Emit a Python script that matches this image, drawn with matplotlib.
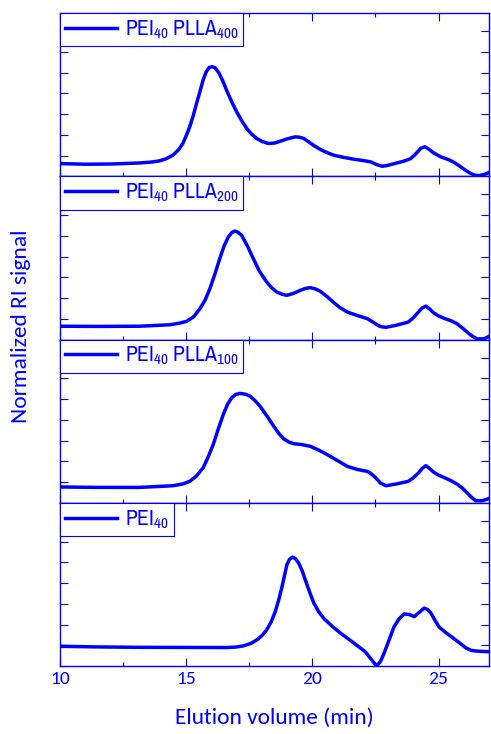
import matplotlib
matplotlib.use("Agg")
import matplotlib.pyplot as plt
from matplotlib.ticker import MultipleLocator, NullFormatter

BLUE = "#0000FF"

# GPC traces (elution volume in min, normalized RI signal)
plla400_x = [10.0, 11.0, 12.0, 13.15, 13.6, 13.94, 14.2, 14.47, 14.7, 14.87, 15.0, 15.14,
             15.28, 15.41, 15.55, 15.67, 15.8, 15.92, 16.04, 16.15, 16.3, 16.45, 16.6,
             16.8, 17.0, 17.2, 17.4, 17.6, 17.8, 18.0, 18.26, 18.5, 18.73, 19.0, 19.32,
             19.5, 19.66, 19.9, 20.1, 20.32, 20.6, 20.86, 21.2, 21.65, 22.0, 22.32, 22.55,
             22.78, 23.0, 23.25, 23.6, 23.9, 24.1, 24.3, 24.46, 24.6, 24.8, 25.1, 25.4,
             25.63, 25.85, 26.03, 26.25, 26.43, 26.6, 26.8, 27.0]
plla400_y = [0.61, 0.58, 0.59, 0.64, 0.68, 0.74, 0.84, 1.01, 1.28, 1.58, 1.95, 2.38,
             2.92, 3.51, 4.1, 4.64, 5.05, 5.25, 5.28, 5.22, 4.98, 4.6, 4.15,
             3.6, 3.11, 2.68, 2.3, 2.02, 1.82, 1.68, 1.58, 1.6, 1.69, 1.8, 1.9,
             1.88, 1.82, 1.62, 1.45, 1.29, 1.13, 1.01, 0.92, 0.82, 0.76, 0.69, 0.56,
             0.48, 0.53, 0.61, 0.72, 0.85, 1.08, 1.35, 1.42, 1.32, 1.13, 0.93, 0.8,
             0.66, 0.48, 0.32, 0.15, 0.05, 0.03, 0.08, 0.18]

plla200_x = [10.0, 11.5, 13.15, 14.35, 14.7, 15.01, 15.3, 15.54, 15.75, 15.94, 16.15, 16.33,
             16.5, 16.67, 16.8, 16.93, 17.05, 17.2, 17.43, 17.66, 17.9, 18.19, 18.4, 18.59,
             18.8, 18.99, 19.25, 19.52, 19.72, 19.92, 20.12, 20.32, 20.6, 20.86, 21.1, 21.39,
             21.8, 22.19, 22.4, 22.59, 22.75, 22.92, 23.3, 23.8, 24.0, 24.2, 24.35, 24.5,
             24.65, 24.8, 25.0, 25.2, 25.5, 25.73, 25.95, 26.14, 26.35, 26.53, 26.8, 27.0]
plla200_y = [0.64, 0.63, 0.64, 0.71, 0.78, 0.87, 1.1, 1.48, 1.9, 2.45, 3.2, 3.9,
             4.5, 4.94, 5.15, 5.23, 5.17, 5.02, 4.5, 3.9, 3.3, 2.77, 2.48, 2.29,
             2.18, 2.13, 2.22, 2.37, 2.46, 2.5, 2.44, 2.32, 2.05, 1.77, 1.53, 1.32,
             1.15, 1.0, 0.84, 0.68, 0.61, 0.59, 0.68, 0.84, 1.05, 1.32, 1.52, 1.61,
             1.47, 1.29, 1.14, 1.03, 0.9, 0.76, 0.55, 0.35, 0.15, 0.03, 0.03, 0.15]

plla100_x = [10.0, 11.5, 13.15, 14.47, 14.85, 15.14, 15.4, 15.67, 15.87, 16.07, 16.27, 16.47,
             16.63, 16.8, 16.96, 17.13, 17.33, 17.53, 17.73, 17.93, 18.2, 18.47, 18.66, 18.86,
             19.06, 19.26, 19.6, 19.92, 20.25, 20.59, 21.0, 21.39, 21.8, 22.19, 22.35, 22.52,
             22.7, 22.92, 23.3, 23.8, 24.0, 24.2, 24.35, 24.5, 24.65, 24.8, 25.0, 25.27,
             25.5, 25.73, 25.95, 26.14, 26.3, 26.47, 26.73, 26.95, 27.1]
plla100_y = [0.76, 0.74, 0.74, 0.82, 0.9, 1.03, 1.28, 1.68, 2.2, 2.8, 3.55, 4.25,
             4.72, 5.06, 5.22, 5.27, 5.24, 5.14, 4.92, 4.65, 4.18, 3.69, 3.36, 3.09,
             2.93, 2.85, 2.8, 2.72, 2.54, 2.32, 2.03, 1.75, 1.6, 1.51, 1.38, 1.19,
             0.95, 0.82, 0.9, 1.03, 1.2, 1.43, 1.65, 1.79, 1.65, 1.48, 1.33, 1.19,
             1.06, 0.9, 0.7, 0.47, 0.27, 0.1, 0.1, 0.18, 0.26]

pei_x = [10.0, 11.5, 13.15, 16.6, 16.95, 17.27, 17.55, 17.8, 18.0, 18.19, 18.37, 18.53,
         18.67, 18.8, 18.9, 18.99, 19.1, 19.22, 19.34, 19.46, 19.6, 19.72, 19.89, 20.06,
         20.25, 20.45, 20.8, 21.12, 21.5, 21.91, 22.1, 22.25, 22.4, 22.55, 22.7, 22.84,
         23.04, 23.24, 23.44, 23.64, 23.84, 24.04, 24.25, 24.43, 24.57, 24.7, 24.86, 25.03,
         25.33, 25.63, 25.87, 26.1, 26.3, 26.5, 26.8, 27.1]
pei_y = [0.95, 0.92, 0.9, 0.89, 0.91, 0.97, 1.08, 1.26, 1.46, 1.74, 2.13, 2.62,
         3.2, 3.83, 4.38, 4.88, 5.15, 5.25, 5.16, 4.96, 4.58, 4.15, 3.57, 3.03,
         2.62, 2.3, 1.9, 1.58, 1.24, 0.86, 0.68, 0.45, 0.22, 0.0, 0.22, 0.61,
         1.25, 1.9, 2.28, 2.51, 2.48, 2.38, 2.6, 2.79, 2.72, 2.55, 2.2, 1.87,
         1.57, 1.3, 1.08, 0.86, 0.75, 0.72, 0.7, 0.68]

labels = [r"PEI$_{40}$ PLLA$_{400}$", r"PEI$_{40}$ PLLA$_{200}$",
          r"PEI$_{40}$ PLLA$_{100}$", r"PEI$_{40}$"]
traces = [(plla400_x, plla400_y), (plla200_x, plla200_y),
          (plla100_x, plla100_y), (pei_x, pei_y)]

plt.rcParams["font.family"] = ["Carlito", "DejaVu Sans"]
plt.rcParams["mathtext.fontset"] = "custom"
plt.rcParams["mathtext.rm"] = "Archivo Narrow"
plt.rcParams["mathtext.default"] = "rm"

fig, axes = plt.subplots(4, 1, sharex=True, figsize=(4.91, 7.34), dpi=100)
fig.subplots_adjust(left=60 / 491, right=489 / 491, top=1 - 13 / 734,
                    bottom=1 - 666 / 734, hspace=0)

for ax, (xs, ys), lab in zip(axes, traces, labels):
    ax.plot(xs, ys, color=BLUE, lw=2.5, label=lab, solid_joinstyle="round")
    ax.set_xlim(10, 27)
    ax.set_ylim(0, 7.87)
    ax.yaxis.set_major_locator(MultipleLocator(1))
    ax.yaxis.set_major_formatter(NullFormatter())
    ax.xaxis.set_major_locator(MultipleLocator(5))
    ax.xaxis.set_minor_locator(MultipleLocator(2.5))
    ax.tick_params(which="both", direction="in", top=True, right=True,
                   color=BLUE, width=0.8, labelcolor=BLUE, labelsize=14)
    ax.tick_params(axis="y", which="major", length=5.8)
    ax.tick_params(axis="x", which="major", length=5.8)
    ax.tick_params(axis="x", which="minor", length=3.0)
    for sp in ax.spines.values():
        sp.set_color(BLUE)
        sp.set_linewidth(1.0)
    leg = ax.legend(loc="upper left", borderaxespad=0, fancybox=False,
                    framealpha=1, edgecolor=BLUE, handlelength=2.4,
                    handletextpad=0.35, borderpad=0.25,
                    prop={"size": 15.5, "family": ["Archivo Narrow", "DejaVu Sans"]})
    leg.get_frame().set_linewidth(0.8)
    for t in leg.get_texts():
        t.set_color(BLUE)

axes[-1].set_xlabel("Elution volume (min)", color=BLUE, fontsize=16.8, labelpad=15)
fig.text(21 / 491, 1 - 326 / 734, "Normalized RI signal", color=BLUE, fontsize=16.8,
         rotation=90, ha="center", va="center")

fig.savefig("out.png", dpi=100)
